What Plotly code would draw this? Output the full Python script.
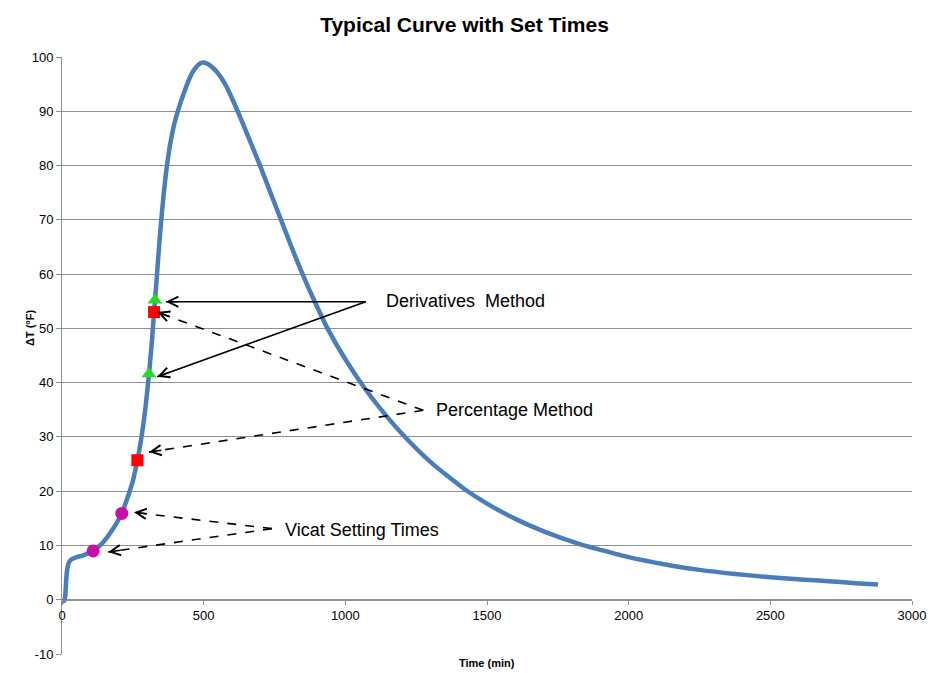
import math
import plotly.graph_objects as go

# ---- data -------------------------------------------------------------
TIME_MIN = [0, 4, 8, 11, 13, 15, 17, 19, 22, 26, 30, 40, 55, 70, 85, 100, 110, 125, 140,
            155, 170, 190, 211, 230, 250, 266, 280, 295, 307, 317, 325, 333, 341, 350,
            360, 370, 382, 396, 411, 427, 444, 460, 476, 490, 500, 515, 530, 546,
            563, 580, 605, 630, 663, 699, 735, 773, 810, 849, 893, 937, 1000, 1065,
            1130, 1205, 1300, 1420, 1500, 1600, 1700, 1830, 1900, 2000, 2125, 2250,
            2375, 2500, 2620, 2720, 2800, 2880]
DELTA_T = [-0.3, -0.3, -0.2, 0.5, 2.0, 3.8, 5.0, 5.8, 6.5, 7.0, 7.3, 7.6, 7.9, 8.1, 8.4,
           8.7, 9.0, 9.6, 10.3, 11.2, 12.3, 13.9, 15.9, 18.6, 21.9, 25.7, 29.8, 35.6,
           41.6, 47.4, 53.0, 58.3, 64.0, 69.8, 75.3, 79.8, 84.0, 87.6, 90.4, 92.9, 95.3,
           97.1, 98.3, 98.9, 99.0, 98.7, 98.1, 97.3, 96.1, 94.6, 91.8, 88.8, 84.6,
           80.0, 75.1, 70.0, 65.0, 60.0, 54.8, 50.0, 44.3, 39.2, 34.8, 30.3, 25.4, 20.4,
           17.7, 14.9, 12.6, 10.2, 9.2, 7.85, 6.55, 5.5, 4.75, 4.15, 3.7, 3.35, 3.05, 2.8]

VICAT_T = [110, 211]
VICAT_Y = [9.0, 15.9]
PERCENT_T = [266, 325]
PERCENT_Y = [25.7, 53.0]
DERIV_T = [307, 328]
DERIV_Y = [41.6, 55.2]

X_TICKS = [0, 500, 1000, 1500, 2000, 2500, 3000]
Y_TICKS = [-10, 0, 10, 20, 30, 40, 50, 60, 70, 80, 90, 100]

# callouts: label, label anchor (t, y), arrow tail (t, y), arrow tips, dashed
CALLOUTS = [
    ("Derivatives  Method", (1136, 55.0), (1072, 54.9), [(367, 54.9), (336, 41.1)], False),
    ("Percentage Method", (1312, 34.9), (1275, 34.9), [(336, 53.0), (307, 27.2)], True),
    ("Vicat Setting Times", (780, 12.9), (741, 13.1), [(254, 16.1), (163, 8.8)], True),
]

TITLE = "Typical Curve with Set Times"
X_TITLE = "Time (min)"
Y_TITLE = "ΔT (°F)"

# ---- layout constants ---------------------------------------------------
W, H = 929, 673
ML, MR, MT, MB = 62, 17, 57, 19
PW, PH = W - ML - MR, H - MT - MB
XR = (0, 3000)
YR = (-10, 100)
FONT = "Liberation Sans, Arial, sans-serif"
GRID = "#8f8f8f"

fig = go.Figure()

fig.add_trace(go.Scatter(x=TIME_MIN, y=DELTA_T, mode="lines",
                         line=dict(color="#4A7EBB", width=4.5, shape="spline", smoothing=0.6),
                         showlegend=False, hoverinfo="skip"))
fig.add_trace(go.Scatter(x=VICAT_T, y=VICAT_Y, mode="markers",
                         marker=dict(symbol="circle", size=13, color="#CC0CAA"),
                         showlegend=False))
fig.add_trace(go.Scatter(x=PERCENT_T, y=PERCENT_Y, mode="markers",
                         marker=dict(symbol="square", size=12, color="#FF0000"),
                         showlegend=False))
fig.add_trace(go.Scatter(x=DERIV_T, y=DERIV_Y, mode="markers",
                         marker=dict(symbol="triangle-up", size=13, color="#22DD22"),
                         showlegend=False))

pxx = PW / (XR[1] - XR[0])
pxy = PH / (YR[1] - YR[0])
annotations = []
shapes = []
for label, lab_pos, tail, tips, dashed in CALLOUTS:
    annotations.append(dict(x=lab_pos[0], y=lab_pos[1], xref="x", yref="y", text=label,
                            showarrow=False, xanchor="left", yanchor="middle",
                            font=dict(family=FONT, size=18, color="#000")))
    for tip in tips:
        shapes.append(dict(type="line", xref="x", yref="y", x0=tail[0], y0=tail[1],
                           x1=tip[0], y1=tip[1],
                           line=dict(color="#000", width=1.6, dash="dash" if dashed else "solid")))
        dx = (tail[0] - tip[0]) * pxx
        dy = -(tail[1] - tip[1]) * pxy
        n = math.hypot(dx, dy)
        annotations.append(dict(x=tip[0], y=tip[1], xref="x", yref="y", text="",
                                showarrow=True, arrowhead=5, arrowsize=1.25, arrowwidth=1.6,
                                arrowcolor="#000", ax=dx / n * 14, ay=dy / n * 14,
                                axref="pixel", ayref="pixel", standoff=0))

annotations.append(dict(x=0.5, y=-(663 - (H - MB)) / PH, xref="paper", yref="paper",
                        text="<b>" + X_TITLE + "</b>", showarrow=False,
                        xanchor="center", yanchor="middle",
                        font=dict(family=FONT, size=11, color="#000")))
annotations.append(dict(x=-(ML - 30) / PW, y=(H - MB - 328) / PH, xref="paper", yref="paper",
                        text="<b>" + Y_TITLE + "</b>", showarrow=False, textangle=-90,
                        xanchor="center", yanchor="middle",
                        font=dict(family=FONT, size=11, color="#000")))

fig.update_layout(
    width=W, height=H,
    margin=dict(l=ML, r=MR, t=MT, b=MB),
    paper_bgcolor="white", plot_bgcolor="white",
    title=dict(text="<b>" + TITLE + "</b>", x=0.5, xanchor="center", y=1 - 25 / H,
               yanchor="middle", font=dict(family=FONT, size=21, color="#000")),
    font=dict(family=FONT, size=13, color="#000"),
    xaxis=dict(range=list(XR), tickvals=X_TICKS, ticktext=[str(v) for v in X_TICKS],
               anchor="free", position=(0 - YR[0]) / (YR[1] - YR[0]), automargin=False,
               showline=True, linecolor=GRID, linewidth=1, ticks="outside", ticklen=4,
               tickcolor=GRID, showgrid=False, zeroline=False,
               tickfont=dict(family=FONT, size=13, color="#000")),
    yaxis=dict(range=list(YR), tickvals=Y_TICKS, ticktext=[str(v) for v in Y_TICKS],
               automargin=False,
               showline=True, linecolor=GRID, linewidth=1, ticks="outside", ticklen=5,
               tickcolor=GRID, showgrid=True, gridcolor=GRID, gridwidth=1, zeroline=False,
               tickfont=dict(family=FONT, size=13, color="#000")),
    annotations=annotations,
    shapes=shapes,
)

fig.write_html("out.html")
